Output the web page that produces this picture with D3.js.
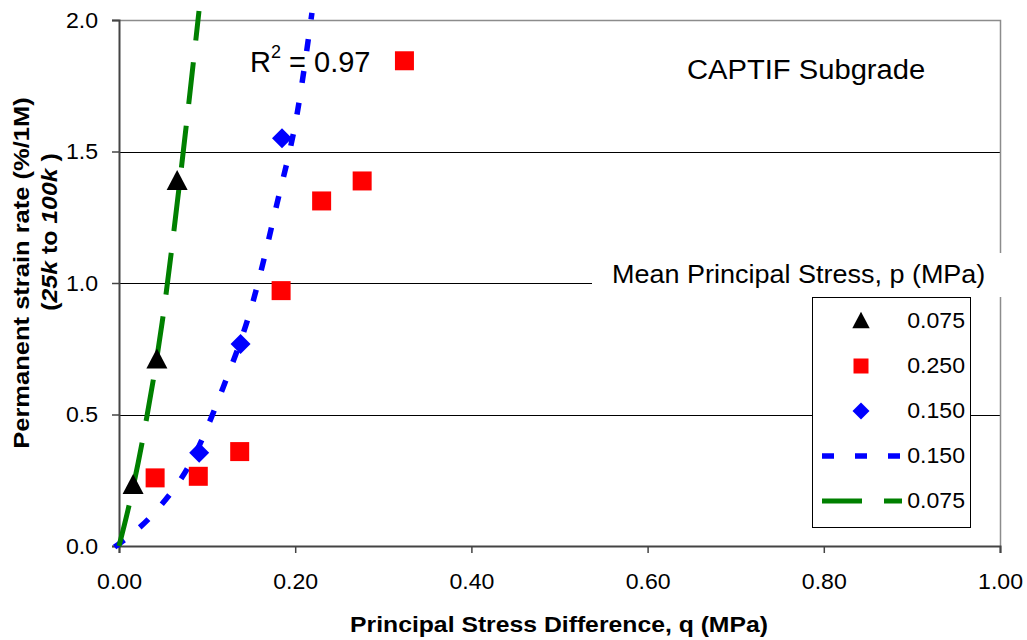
<!DOCTYPE html>
<html>
<head>
<meta charset="UTF-8">
<title>CAPTIF Subgrade</title>
<script src="https://d3js.org/d3.v7.min.js"></script>
<style>
  body { margin: 0; background: #fff; }
  svg text { font-family: "Liberation Sans", Arial, sans-serif; fill: #000; }
</style>
</head>
<body>
<div id="chart"></div>
<script>
// axis ticks
var xTicks = [0, 0.2, 0.4, 0.6, 0.8, 1.0];
var yTicks = [0, 0.5, 1.0, 1.5, 2.0];

// p = 0.075 MPa (black triangles)
var triQ = [0.016, 0.043, 0.066];
var triS = [0.236, 0.713, 1.392];

// p = 0.250 MPa (red squares)
var sqQ = [0.041, 0.090, 0.137, 0.184, 0.230, 0.276, 0.324];
var sqS = [0.259, 0.265, 0.359, 0.971, 1.312, 1.388, 1.845];

// p = 0.150 MPa (blue diamonds)
var diaQ = [0.091, 0.138, 0.185];
var diaS = [0.355, 0.768, 1.550];

// trend lines, points
var trend150Q = [-0.005, 0.043, 0.083, 0.118, 0.152, 0.179, 0.203, 0.219];
var trend150S = [-0.004, 0.137, 0.327, 0.601, 0.928, 1.297, 1.660, 2.027];
var trend075Q = [0, 0.0102, 0.0295, 0.049, 0.0692, 0.0908];
var trend075S = [0, 0.137, 0.452, 0.850, 1.392, 2.034];

var legendLabels = ["0.075", "0.250", "0.150", "0.150", "0.075"];

var width = 1027, height = 640;

var svg = d3.select("#chart").append("svg")
    .attr("width", width)
    .attr("height", height);

var x = d3.scaleLinear().domain([0, 1]).range([119, 1000]);
var y = d3.scaleLinear().domain([0, 2]).range([546, 20]);

// text helper - the original font renders a bit wider than Arial
function label(g, px, py, str, size, opts) {
    opts = opts || {};
    var t = g.append("text")
        .attr("transform", "translate(" + px + "," + py + ")" + (opts.rotate ? " rotate(-90)" : "") +
              " scale(" + (opts.sx || 1.06) + ",1)")
        .attr("font-size", size)
        .attr("text-anchor", opts.anchor || "start")
        .attr("font-weight", opts.bold ? "bold" : "normal");
    if (str) t.text(str);
    return t;
}

// horizontal gridlines
svg.append("g").selectAll("line")
    .data([0.5, 1.0, 1.5])
    .enter().append("line")
    .attr("x1", x(0)).attr("x2", x(1))
    .attr("y1", function(d) { return Math.round(y(d)) + 0.5; })
    .attr("y2", function(d) { return Math.round(y(d)) + 0.5; })
    .attr("stroke", "#000").attr("stroke-width", 1);

// top and right border of the plot area
svg.append("path")
    .attr("d", "M" + x(0) + "," + (y(2) + 0.5) + "H" + (x(1) + 0.5) + "V" + y(0))
    .attr("fill", "none").attr("stroke", "#8c8c8c").attr("stroke-width", 1.5);

// axes
var yAxis = d3.axisLeft(y).tickValues(yTicks).tickSize(7).tickPadding(13)
    .tickFormat(d3.format(".1f"));
var xAxis = d3.axisBottom(x).tickValues(xTicks).tickSize(7).tickPadding(20)
    .tickFormat(d3.format(".2f"));

var gy = svg.append("g").attr("transform", "translate(" + x(0) + ",0)").call(yAxis);
var gx = svg.append("g").attr("transform", "translate(0," + y(0) + ")").call(xAxis);

[gy, gx].forEach(function(g) {
    g.select(".domain").attr("stroke", "#444").attr("stroke-width", 2);
    g.selectAll(".tick line").attr("stroke", "#444").attr("stroke-width", 1.5);
    g.selectAll(".tick text")
        .attr("font-size", 22)
        .attr("font-family", "Liberation Sans, Arial, sans-serif")
        .attr("fill", "#000")
        .attr("transform", "scale(1.05,1)");
});

// R squared label
var r2 = label(svg, 250, 72, null, 29, { sx: 1.0 });
r2.append("tspan").text("R");
r2.append("tspan").attr("font-size", 18).attr("dy", -14).text("2");
r2.append("tspan").attr("dy", 14).text(" = 0.97");

// chart title
label(svg, 687, 79, "CAPTIF Subgrade", 27, { sx: 1.08 });

// legend title sits in a white box over the grid
svg.append("rect")
    .attr("x", 592).attr("y", 253).attr("width", 413).attr("height", 44)
    .attr("fill", "#fff");
label(svg, 612, 283, "Mean Principal Stress, p (MPa)", 25, { sx: 1.08 });

// trend lines
var line = d3.line()
    .x(function(d) { return x(d[0]); })
    .y(function(d) { return y(d[1]); })
    .curve(d3.curveMonotoneX);

svg.append("path")
    .datum(d3.zip(trend150Q, trend150S))
    .attr("d", line)
    .attr("fill", "none").attr("stroke", "#0000ff")
    .attr("stroke-width", 5.5).attr("stroke-dasharray", "12,20");

svg.append("path")
    .datum(d3.zip(trend075Q, trend075S))
    .attr("d", line)
    .attr("fill", "none").attr("stroke", "#008000")
    .attr("stroke-width", 5).attr("stroke-dasharray", "42,22");

// marker shapes
function triPath(h) {
    return "M0," + (-h) + "L" + (h * 1.05) + "," + h + "L" + (-h * 1.05) + "," + h + "Z";
}
function diaPath(h) {
    return "M0," + (-h) + "L" + h + ",0L0," + h + "L" + (-h) + ",0Z";
}
function sqPath(h) {
    return "M" + (-h) + "," + (-h) + "H" + h + "V" + h + "H" + (-h) + "Z";
}

svg.append("g").selectAll("path")
    .data(d3.zip(sqQ, sqS))
    .enter().append("path")
    .attr("transform", function(d) { return "translate(" + x(d[0]) + "," + y(d[1]) + ")"; })
    .attr("d", sqPath(9.5))
    .attr("fill", "#ff0000");

svg.append("g").selectAll("path")
    .data(d3.zip(diaQ, diaS))
    .enter().append("path")
    .attr("transform", function(d) { return "translate(" + x(d[0]) + "," + y(d[1]) + ")"; })
    .attr("d", diaPath(10))
    .attr("fill", "#0000ff");

svg.append("g").selectAll("path")
    .data(d3.zip(triQ, triS))
    .enter().append("path")
    .attr("transform", function(d) { return "translate(" + x(d[0]) + "," + y(d[1]) + ")"; })
    .attr("d", triPath(10))
    .attr("fill", "#000");

// legend box
var legend = svg.append("g");
legend.append("rect")
    .attr("x", 812.5).attr("y", 297.5).attr("width", 158).attr("height", 230)
    .attr("fill", "#fff").attr("stroke", "#000").attr("stroke-width", 1);

var rowY = [320, 365, 410, 455, 500];
var symX = 861;

legend.append("path").attr("transform", "translate(" + symX + "," + rowY[0] + ")")
    .attr("d", triPath(8.3)).attr("fill", "#000");
legend.append("path").attr("transform", "translate(" + symX + "," + (rowY[1] + 1) + ")")
    .attr("d", sqPath(7.5)).attr("fill", "#ff0000");
legend.append("path").attr("transform", "translate(" + symX + "," + (rowY[2] + 1) + ")")
    .attr("d", diaPath(8.5)).attr("fill", "#0000ff");
legend.append("line")
    .attr("x1", 822).attr("x2", 902).attr("y1", rowY[3] + 1).attr("y2", rowY[3] + 1)
    .attr("stroke", "#0000ff").attr("stroke-width", 5.5).attr("stroke-dasharray", "12,21");
legend.append("line")
    .attr("x1", 822).attr("x2", 902).attr("y1", rowY[4] + 1).attr("y2", rowY[4] + 1)
    .attr("stroke", "#008000").attr("stroke-width", 5).attr("stroke-dasharray", "40,22");

legendLabels.forEach(function(s, i) {
    label(legend, 965, rowY[i] + 7.5, s, 22, { anchor: "end", sx: 1.05 });
});

// axis titles
label(svg, 559, 632, "Principal Stress Difference, q (MPa)", 22, { anchor: "middle", bold: true, sx: 1.125 });

label(svg, 29, 273, "Permanent strain rate (%/1M)", 22, { anchor: "middle", bold: true, sx: 1.16, rotate: true });
var yt2 = label(svg, 57, 232, null, 22, { anchor: "middle", bold: true, sx: 1.13, rotate: true });
yt2.append("tspan").text("(");
yt2.append("tspan").attr("font-style", "italic").text("25k");
yt2.append("tspan").text(" to ");
yt2.append("tspan").attr("font-style", "italic").text("100k");
yt2.append("tspan").text(" )");
</script>
</body>
</html>
